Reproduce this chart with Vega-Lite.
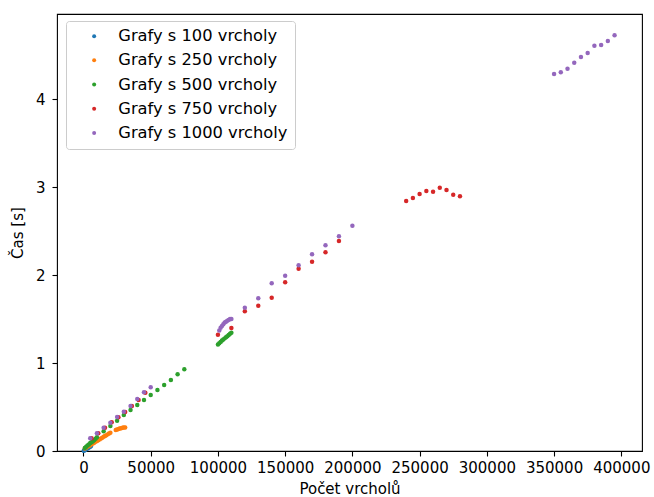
{
  "$schema": "https://vega.github.io/schema/vega-lite/v6.json",
  "width": 585,
  "height": 437,
  "autosize": {"type": "none"},
  "padding": {"left": 57, "top": 14, "right": 12, "bottom": 46},
  "background": "white",
  "config": {
    "font": "DejaVu Sans",
    "view": {"stroke": "black", "strokeWidth": 1.1},
    "axis": {
      "grid": false,
      "domain": false,
      "tickColor": "black",
      "tickSize": 5,
      "tickWidth": 1.1,
      "labelColor": "black",
      "labelFont": "DejaVu Sans",
      "labelFontSize": 15,
      "titleFont": "DejaVu Sans",
      "titleFontSize": 15,
      "titleFontWeight": "normal",
      "titleColor": "black"
    }
  },
  "data": {
    "values": [
      {"n": "Grafy s 100 vrcholy", "v": 200, "t": 0.003},
      {"n": "Grafy s 100 vrcholy", "v": 600, "t": 0.007},
      {"n": "Grafy s 100 vrcholy", "v": 1000, "t": 0.011},
      {"n": "Grafy s 100 vrcholy", "v": 1500, "t": 0.016},
      {"n": "Grafy s 100 vrcholy", "v": 2000, "t": 0.021},
      {"n": "Grafy s 100 vrcholy", "v": 2500, "t": 0.026},
      {"n": "Grafy s 100 vrcholy", "v": 3000, "t": 0.031},
      {"n": "Grafy s 100 vrcholy", "v": 3500, "t": 0.036},
      {"n": "Grafy s 100 vrcholy", "v": 4000, "t": 0.041},
      {"n": "Grafy s 100 vrcholy", "v": 4500, "t": 0.046},
      {"n": "Grafy s 100 vrcholy", "v": 5000, "t": 0.05},
      {"n": "Grafy s 100 vrcholy", "v": 5500, "t": 0.055},

      {"n": "Grafy s 250 vrcholy", "v": 1000, "t": 0.028},
      {"n": "Grafy s 250 vrcholy", "v": 2000, "t": 0.038},
      {"n": "Grafy s 250 vrcholy", "v": 3000, "t": 0.047},
      {"n": "Grafy s 250 vrcholy", "v": 4000, "t": 0.057},
      {"n": "Grafy s 250 vrcholy", "v": 5000, "t": 0.066},
      {"n": "Grafy s 250 vrcholy", "v": 6000, "t": 0.076},
      {"n": "Grafy s 250 vrcholy", "v": 7000, "t": 0.085},
      {"n": "Grafy s 250 vrcholy", "v": 8000, "t": 0.095},
      {"n": "Grafy s 250 vrcholy", "v": 9000, "t": 0.104},
      {"n": "Grafy s 250 vrcholy", "v": 10000, "t": 0.113},
      {"n": "Grafy s 250 vrcholy", "v": 11000, "t": 0.123},
      {"n": "Grafy s 250 vrcholy", "v": 12000, "t": 0.132},
      {"n": "Grafy s 250 vrcholy", "v": 13000, "t": 0.142},
      {"n": "Grafy s 250 vrcholy", "v": 14000, "t": 0.151},
      {"n": "Grafy s 250 vrcholy", "v": 15000, "t": 0.161},
      {"n": "Grafy s 250 vrcholy", "v": 16000, "t": 0.170},
      {"n": "Grafy s 250 vrcholy", "v": 17000, "t": 0.179},
      {"n": "Grafy s 250 vrcholy", "v": 18000, "t": 0.189},
      {"n": "Grafy s 250 vrcholy", "v": 19000, "t": 0.198},
      {"n": "Grafy s 250 vrcholy", "v": 20000, "t": 0.208},
      {"n": "Grafy s 250 vrcholy", "v": 24000, "t": 0.239},
      {"n": "Grafy s 250 vrcholy", "v": 25000, "t": 0.245},
      {"n": "Grafy s 250 vrcholy", "v": 26000, "t": 0.25},
      {"n": "Grafy s 250 vrcholy", "v": 27000, "t": 0.255},
      {"n": "Grafy s 250 vrcholy", "v": 28000, "t": 0.259},
      {"n": "Grafy s 250 vrcholy", "v": 29000, "t": 0.263},
      {"n": "Grafy s 250 vrcholy", "v": 30000, "t": 0.266},
      {"n": "Grafy s 250 vrcholy", "v": 31000, "t": 0.268},

      {"n": "Grafy s 500 vrcholy", "v": 1000, "t": 0.035},
      {"n": "Grafy s 500 vrcholy", "v": 2000, "t": 0.048},
      {"n": "Grafy s 500 vrcholy", "v": 3000, "t": 0.062},
      {"n": "Grafy s 500 vrcholy", "v": 4000, "t": 0.075},
      {"n": "Grafy s 500 vrcholy", "v": 5000, "t": 0.09},
      {"n": "Grafy s 500 vrcholy", "v": 6000, "t": 0.1},
      {"n": "Grafy s 500 vrcholy", "v": 7000, "t": 0.112},
      {"n": "Grafy s 500 vrcholy", "v": 8000, "t": 0.125},
      {"n": "Grafy s 500 vrcholy", "v": 9000, "t": 0.14},
      {"n": "Grafy s 500 vrcholy", "v": 10000, "t": 0.155},
      {"n": "Grafy s 500 vrcholy", "v": 15000, "t": 0.225},
      {"n": "Grafy s 500 vrcholy", "v": 20000, "t": 0.285},
      {"n": "Grafy s 500 vrcholy", "v": 25000, "t": 0.344},
      {"n": "Grafy s 500 vrcholy", "v": 30000, "t": 0.409},
      {"n": "Grafy s 500 vrcholy", "v": 35000, "t": 0.466},
      {"n": "Grafy s 500 vrcholy", "v": 40000, "t": 0.523},
      {"n": "Grafy s 500 vrcholy", "v": 45000, "t": 0.58},
      {"n": "Grafy s 500 vrcholy", "v": 50000, "t": 0.636},
      {"n": "Grafy s 500 vrcholy", "v": 55000, "t": 0.693},
      {"n": "Grafy s 500 vrcholy", "v": 60000, "t": 0.75},
      {"n": "Grafy s 500 vrcholy", "v": 65000, "t": 0.807},
      {"n": "Grafy s 500 vrcholy", "v": 70000, "t": 0.872},
      {"n": "Grafy s 500 vrcholy", "v": 75000, "t": 0.928},
      {"n": "Grafy s 500 vrcholy", "v": 100000, "t": 1.21},
      {"n": "Grafy s 500 vrcholy", "v": 101000, "t": 1.225},
      {"n": "Grafy s 500 vrcholy", "v": 102000, "t": 1.24},
      {"n": "Grafy s 500 vrcholy", "v": 103000, "t": 1.255},
      {"n": "Grafy s 500 vrcholy", "v": 104000, "t": 1.268},
      {"n": "Grafy s 500 vrcholy", "v": 105000, "t": 1.28},
      {"n": "Grafy s 500 vrcholy", "v": 106000, "t": 1.292},
      {"n": "Grafy s 500 vrcholy", "v": 107000, "t": 1.305},
      {"n": "Grafy s 500 vrcholy", "v": 108000, "t": 1.318},
      {"n": "Grafy s 500 vrcholy", "v": 109000, "t": 1.332},
      {"n": "Grafy s 500 vrcholy", "v": 110000, "t": 1.345},

      {"n": "Grafy s 750 vrcholy", "v": 6000, "t": 0.144},
      {"n": "Grafy s 750 vrcholy", "v": 11000, "t": 0.201},
      {"n": "Grafy s 750 vrcholy", "v": 16000, "t": 0.265},
      {"n": "Grafy s 750 vrcholy", "v": 21000, "t": 0.326},
      {"n": "Grafy s 750 vrcholy", "v": 26000, "t": 0.383},
      {"n": "Grafy s 750 vrcholy", "v": 31000, "t": 0.443},
      {"n": "Grafy s 750 vrcholy", "v": 36000, "t": 0.511},
      {"n": "Grafy s 750 vrcholy", "v": 41000, "t": 0.579},
      {"n": "Grafy s 750 vrcholy", "v": 46000, "t": 0.662},
      {"n": "Grafy s 750 vrcholy", "v": 100000, "t": 1.322},
      {"n": "Grafy s 750 vrcholy", "v": 110000, "t": 1.398},
      {"n": "Grafy s 750 vrcholy", "v": 120000, "t": 1.588},
      {"n": "Grafy s 750 vrcholy", "v": 130000, "t": 1.651},
      {"n": "Grafy s 750 vrcholy", "v": 140000, "t": 1.742},
      {"n": "Grafy s 750 vrcholy", "v": 150000, "t": 1.917},
      {"n": "Grafy s 750 vrcholy", "v": 160000, "t": 2.072},
      {"n": "Grafy s 750 vrcholy", "v": 170000, "t": 2.151},
      {"n": "Grafy s 750 vrcholy", "v": 180000, "t": 2.258},
      {"n": "Grafy s 750 vrcholy", "v": 190000, "t": 2.386},
      {"n": "Grafy s 750 vrcholy", "v": 240000, "t": 2.841},
      {"n": "Grafy s 750 vrcholy", "v": 245000, "t": 2.875},
      {"n": "Grafy s 750 vrcholy", "v": 250000, "t": 2.92},
      {"n": "Grafy s 750 vrcholy", "v": 255000, "t": 2.955},
      {"n": "Grafy s 750 vrcholy", "v": 260000, "t": 2.947},
      {"n": "Grafy s 750 vrcholy", "v": 265000, "t": 2.992},
      {"n": "Grafy s 750 vrcholy", "v": 270000, "t": 2.966},
      {"n": "Grafy s 750 vrcholy", "v": 275000, "t": 2.913},
      {"n": "Grafy s 750 vrcholy", "v": 280000, "t": 2.894},

      {"n": "Grafy s 1000 vrcholy", "v": 5000, "t": 0.144},
      {"n": "Grafy s 1000 vrcholy", "v": 10000, "t": 0.201},
      {"n": "Grafy s 1000 vrcholy", "v": 15000, "t": 0.265},
      {"n": "Grafy s 1000 vrcholy", "v": 20000, "t": 0.322},
      {"n": "Grafy s 1000 vrcholy", "v": 25000, "t": 0.386},
      {"n": "Grafy s 1000 vrcholy", "v": 30000, "t": 0.447},
      {"n": "Grafy s 1000 vrcholy", "v": 35000, "t": 0.511},
      {"n": "Grafy s 1000 vrcholy", "v": 40000, "t": 0.591},
      {"n": "Grafy s 1000 vrcholy", "v": 45000, "t": 0.667},
      {"n": "Grafy s 1000 vrcholy", "v": 50000, "t": 0.724},
      {"n": "Grafy s 1000 vrcholy", "v": 101000, "t": 1.37},
      {"n": "Grafy s 1000 vrcholy", "v": 102000, "t": 1.4},
      {"n": "Grafy s 1000 vrcholy", "v": 103000, "t": 1.42},
      {"n": "Grafy s 1000 vrcholy", "v": 104000, "t": 1.44},
      {"n": "Grafy s 1000 vrcholy", "v": 105000, "t": 1.46},
      {"n": "Grafy s 1000 vrcholy", "v": 106000, "t": 1.47},
      {"n": "Grafy s 1000 vrcholy", "v": 107000, "t": 1.48},
      {"n": "Grafy s 1000 vrcholy", "v": 108000, "t": 1.49},
      {"n": "Grafy s 1000 vrcholy", "v": 109000, "t": 1.5},
      {"n": "Grafy s 1000 vrcholy", "v": 110000, "t": 1.5},
      {"n": "Grafy s 1000 vrcholy", "v": 120000, "t": 1.628},
      {"n": "Grafy s 1000 vrcholy", "v": 130000, "t": 1.735},
      {"n": "Grafy s 1000 vrcholy", "v": 140000, "t": 1.906},
      {"n": "Grafy s 1000 vrcholy", "v": 150000, "t": 1.992},
      {"n": "Grafy s 1000 vrcholy", "v": 160000, "t": 2.11},
      {"n": "Grafy s 1000 vrcholy", "v": 170000, "t": 2.235},
      {"n": "Grafy s 1000 vrcholy", "v": 180000, "t": 2.337},
      {"n": "Grafy s 1000 vrcholy", "v": 190000, "t": 2.44},
      {"n": "Grafy s 1000 vrcholy", "v": 200000, "t": 2.56},
      {"n": "Grafy s 1000 vrcholy", "v": 350000, "t": 4.284},
      {"n": "Grafy s 1000 vrcholy", "v": 355000, "t": 4.303},
      {"n": "Grafy s 1000 vrcholy", "v": 360000, "t": 4.344},
      {"n": "Grafy s 1000 vrcholy", "v": 365000, "t": 4.413},
      {"n": "Grafy s 1000 vrcholy", "v": 370000, "t": 4.477},
      {"n": "Grafy s 1000 vrcholy", "v": 375000, "t": 4.523},
      {"n": "Grafy s 1000 vrcholy", "v": 380000, "t": 4.606},
      {"n": "Grafy s 1000 vrcholy", "v": 385000, "t": 4.614},
      {"n": "Grafy s 1000 vrcholy", "v": 390000, "t": 4.659},
      {"n": "Grafy s 1000 vrcholy", "v": 395000, "t": 4.724}
    ]
  },
  "mark": {"type": "circle", "size": 20, "opacity": 1},
  "encoding": {
    "x": {
      "field": "v",
      "type": "quantitative",
      "title": "Počet vrcholů",
      "scale": {"domain": [-19700, 415400], "nice": false, "zero": false},
      "axis": {"values": [0, 50000, 100000, 150000, 200000, 250000, 300000, 350000, 400000], "format": "d", "labelPadding": 4, "titlePadding": 6}
    },
    "y": {
      "field": "t",
      "type": "quantitative",
      "title": "Čas [s]",
      "scale": {"domain": [0, 4.966], "nice": false},
      "axis": {"values": [0, 1, 2, 3, 4], "labelPadding": 7, "titlePadding": 10}
    },
    "color": {
      "field": "n",
      "type": "nominal",
      "scale": {
        "domain": ["Grafy s 100 vrcholy", "Grafy s 250 vrcholy", "Grafy s 500 vrcholy", "Grafy s 750 vrcholy", "Grafy s 1000 vrcholy"],
        "range": ["#1f77b4", "#ff7f0e", "#2ca02c", "#d62728", "#9467bd"]
      },
      "legend": {
        "title": null,
        "orient": "none",
        "legendX": 9,
        "legendY": 7,
        "padding": 7,
        "strokeColor": "#cccccc",
        "fillColor": "white",
        "cornerRadius": 3,
        "symbolType": "circle",
        "symbolSize": 16,
        "symbolOffset": 13,
        "labelOffset": 16,
        "labelLimit": 0,
        "labelFont": "DejaVu Sans",
        "labelFontSize": 16.3,
        "labelColor": "black",
        "rowPadding": 7.2
      }
    }
  }
}
